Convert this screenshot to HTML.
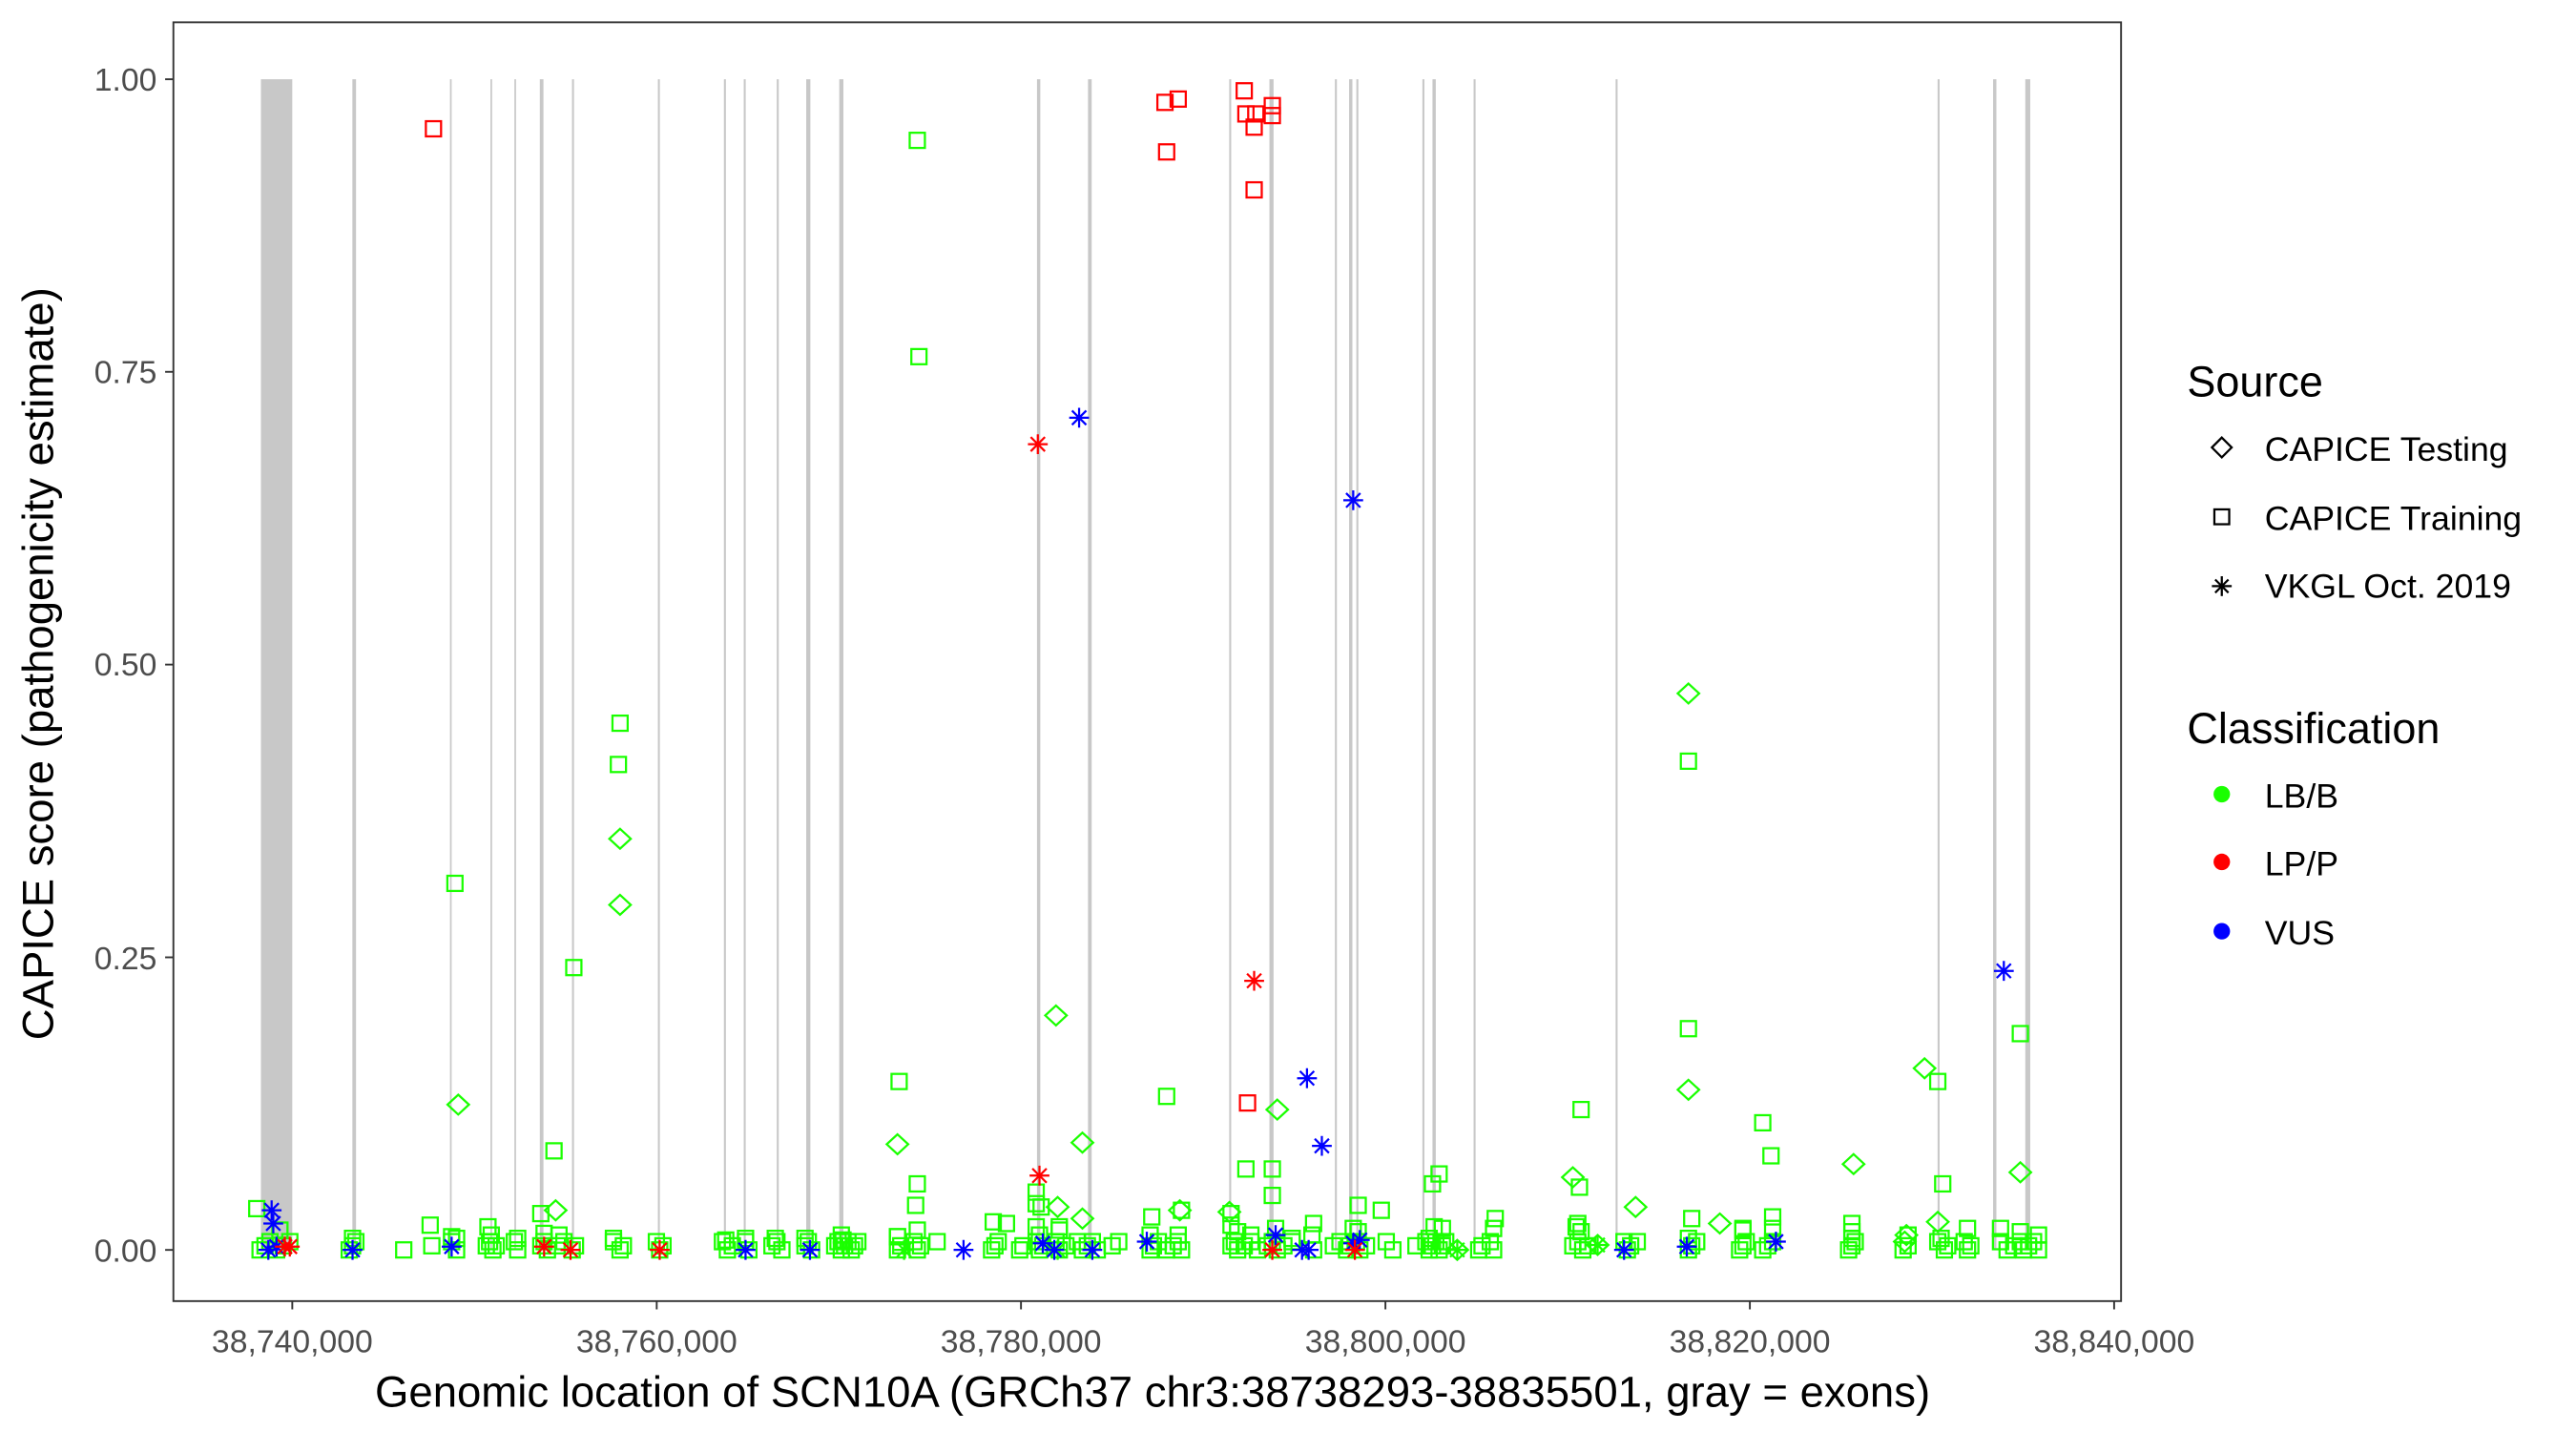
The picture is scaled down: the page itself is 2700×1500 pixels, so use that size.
<!DOCTYPE html>
<html><head><meta charset="utf-8"><style>
html,body{margin:0;padding:0;background:#fff;width:2700px;height:1500px;overflow:hidden}
svg{display:block}
text{font-family:"Liberation Sans",Arial,sans-serif}
</style></head><body>
<svg id="s" width="2700" height="1500" viewBox="0 0 1560 866.67" xmlns="http://www.w3.org/2000/svg">
<rect x="0" y="0" width="1560" height="867" fill="#fff"/>
<g transform="translate(-2.5,0)">
<g id="exons" fill="#c8c8c8"></g>
<g id="pts" fill="none" stroke-width="1.3"></g>
</g>
<rect x="105" y="13.5" width="1179.5" height="774.5" fill="none" stroke="#333" stroke-width="1.1"/>
<g stroke="#333" stroke-width="1.1">
<line x1="100" y1="48" x2="105" y2="48"/><line x1="100" y1="225.2" x2="105" y2="225.2"/><line x1="100" y1="402.5" x2="105" y2="402.5"/><line x1="100" y1="579.8" x2="105" y2="579.8"/><line x1="100" y1="757" x2="105" y2="757"/>
<line x1="177" y1="788" x2="177" y2="793"/><line x1="397.7" y1="788" x2="397.7" y2="793"/><line x1="618.3" y1="788" x2="618.3" y2="793"/><line x1="839" y1="788" x2="839" y2="793"/><line x1="1059.7" y1="788" x2="1059.7" y2="793"/><line x1="1280.3" y1="788" x2="1280.3" y2="793"/>
</g>
<g font-size="19.5" fill="#4d4d4d" text-anchor="end">
<text x="95" y="55">1.00</text><text x="95" y="232">0.75</text><text x="95" y="409">0.50</text><text x="95" y="587">0.25</text><text x="95" y="764">0.00</text>
</g>
<g font-size="19.5" fill="#4d4d4d" text-anchor="middle">
<text x="177" y="819">38,740,000</text><text x="397.7" y="819">38,760,000</text><text x="618.3" y="819">38,780,000</text><text x="839" y="819">38,800,000</text><text x="1059.7" y="819">38,820,000</text><text x="1280.3" y="819">38,840,000</text>
</g>
<text x="698" y="852" font-size="26.3" text-anchor="middle">Genomic location of SCN10A (GRCh37 chr3:38738293-38835501, gray = exons)</text>
<text transform="translate(32,402) rotate(-90)" font-size="26.3" text-anchor="middle">CAPICE score (pathogenicity estimate)</text>
<g transform="translate(-6.5,0)">
<text x="1331" y="240" font-size="26">Source</text>
<path d="M1352,265 L1358,271 L1352,277 L1346,271 Z" fill="none" stroke="#000" stroke-width="1.3"/>
<text x="1378" y="279" font-size="20.6">CAPICE Testing</text>
<rect x="1347.5" y="308.5" width="9" height="9" fill="none" stroke="#000" stroke-width="1.3"/>
<text x="1378" y="321" font-size="20.6">CAPICE Training</text>
<g stroke="#000" stroke-width="1.3"><line x1="1346" y1="355" x2="1358" y2="355"/><line x1="1352" y1="349" x2="1352" y2="361"/><line x1="1348" y1="351" x2="1356" y2="359"/><line x1="1348" y1="359" x2="1356" y2="351"/></g>
<text x="1378" y="362" font-size="20.6">VKGL Oct. 2019</text>
<text x="1331" y="450" font-size="26">Classification</text>
<circle cx="1352" cy="481" r="5" fill="#1aff00"/><text x="1378" y="489" font-size="20.6">LB/B</text>
<circle cx="1352" cy="522" r="5" fill="#ff0000"/><text x="1378" y="530" font-size="20.6">LP/P</text>
<circle cx="1352" cy="564" r="5" fill="#0000ff"/><text x="1378" y="572" font-size="20.6">VUS</text>
</g>
</svg>
<script>
(function(){
var NS="http://www.w3.org/2000/svg";
var ex=document.getElementById("exons");
function r(x,w){var e=document.createElementNS(NS,"rect");e.setAttribute("x",x-w/2);e.setAttribute("y",48);e.setAttribute("width",w);e.setAttribute("height",709);ex.appendChild(e);}
r(170,19);
[[215.5,2.2],[274,1],[298.5,1],[313,1],[329,2.2],[348,1.2],[400,1.2],[440,1.2],[452,1.2],[472,1.2],[490.5,2.5],[510.5,2.5],[630,2],[661,2.2],[746,1.2],[771,2.5],[810,1.2],[819,2],[823,1.2],[863,1.2],[869.5,2],[894,1.2],[980,1.2],[1175,1.2],[1209,2],[1229,3]].forEach(function(a){r(a[0]+1.5,a[1]);});
var g=document.getElementById("pts");
var C={g:"#1aff00",r:"#ff0000",b:"#0000ff"};
function add(t,c,x,y){
 var e;
 if(t=="s"){e=document.createElementNS(NS,"rect");e.setAttribute("x",x-4.6);e.setAttribute("y",y-4.6);e.setAttribute("width",9.2);e.setAttribute("height",9.2);e.setAttribute("stroke",C[c]);g.appendChild(e);}
 else if(t=="d"){e=document.createElementNS(NS,"path");e.setAttribute("d","M"+x+","+(y-6)+" L"+(x+6.5)+","+y+" L"+x+","+(y+6)+" L"+(x-6.5)+","+y+" Z");e.setAttribute("stroke",C[c]);g.appendChild(e);}
 else {e=document.createElementNS(NS,"path");e.setAttribute("d","M"+(x-6)+","+y+"H"+(x+6)+"M"+x+","+(y-6)+"V"+(y+6)+"M"+(x-4.3)+","+(y-4.3)+"L"+(x+4.3)+","+(y+4.3)+"M"+(x-4.3)+","+(y+4.3)+"L"+(x+4.3)+","+(y-4.3));e.setAttribute("stroke",C[c]);g.appendChild(e);}
}
var bx=[160,163,166,170,174,178,214,216,218,247,264,276,279,297,299,301,303,314,316,330,332,334,340,344,349,351,374,378,380,400,402,404,440,443,446,454,456,470,473,476,490,492,494,508,510,512,514,516,518,520,522,546,548,556,558,560,570,603,605,607,620,622,630,632,634,642,644,648,655,658,661,664,667,676,680,699,701,704,709,713,716,718,748,750,752,756,760,764,770,773,776,780,785,798,810,814,818,820,824,826,830,842,846,860,866,868,870,872,874,876,878,898,900,905,907,955,958,961,964,986,988,990,994,1025,1027,1030,1056,1058,1060,1070,1073,1076,1122,1124,1126,1155,1158,1176,1180,1182,1192,1194,1196,1214,1218,1222,1226,1228,1231,1234,1237];
bx.forEach(function(x,i){add("s","g",x,757-(i%3)*2.5);});
[[172,745],[216,750],[276,749],[300,748],[316,750],[332,747],[341,748],[374,750],[442,751],[454,750],[472,750],[490,750],[512,748],[513,751],[546,749],[558,745],[604,740],[630,743],[632,748],[644,745],[699,748],[716,748],[748,742],[752,746],[760,748],[775,744],[785,750],[797,748],[822,744],[825,746],[868,750],[876,744],[907,744],[957,743],[960,746],[1025,750],[1058,745],[1076,744],[1124,750],[1124,746],[1158,748],[1178,750],[1194,744],[1214,744],[1226,746],[1237,748]].forEach(function(p){add("s","g",p[0],p[1]);});
[[558,85],[559,216],[378,438],[377,463],[278,535],[350,586],[547,655],[709,664],[1025,461],[1025,623],[1070,680],[1075,700],[960,672],[1176,655],[1226,626],[1179,717],[338,697],[558,717],[557,730],[630,722],[630,729],[870,717],[871,743],[874,711],[757,708],[773,708],[773,724],[825,730],[839,733],[908,738],[263,742],[279,750],[330,735],[298,743],[1027,738],[1076,737],[1124,741],[959,719],[158,732],[700,737],[718,733],[748,735],[798,741],[546,749],[612,741],[633,731],[644,743],[958,741],[1058,744]].forEach(function(p){add("s","g",p[0],p[1]);});
[[378,508],[378,548],[280,669],[642,615],[658,692],[546,693],[1025,420],[1025,660],[1125,705],[955,713],[993,731],[1044,741],[1168,647],[1226,710],[1176,740],[339,733],[643,731],[658,738],[717,733],[747,734],[776,672],[1157,748],[1156,752],[885,757],[970,754]].forEach(function(p){add("d","g",p[0],p[1]);});
[[265,78],[708,62],[716,60],[709,92],[756,55],[757,69],[763,69],[762,77],[773,64],[773,70],[762,115],[758,668]].forEach(function(p){add("s","r",p[0],p[1]);});
[[885,757],[970,754],[643,757],[550,757]].forEach(function(p){add("a","g",p[0],p[1]);});
[[656,253],[822,303],[794,653],[803,694],[1216,588],[167,733],[168,741],[165,757],[170,755],[216,757],[276,755],[454,757],[493,757],[586,757],[634,753],[641,757],[664,757],[697,752],[775,748],[791,757],[795,757],[822,753],[826,751],[986,757],[1024,755],[1078,752]].forEach(function(p){add("a","b",p[0],p[1]);});
[[631,269],[762,594],[632,712],[175,755],[178,755],[332,755],[348,757],[402,757],[773,757],[823,757]].forEach(function(p){add("a","r",p[0],p[1]);});
})();
</script>
</body></html>
